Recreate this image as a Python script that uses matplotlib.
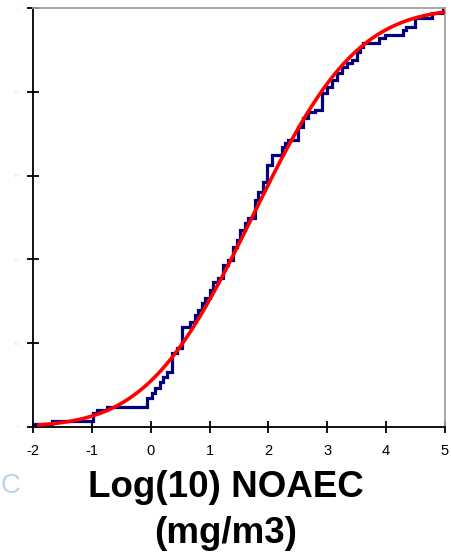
import numpy as np
import matplotlib
matplotlib.use("Agg")
import matplotlib.pyplot as plt
from math import erf, sqrt

# Empirical CDF: x positions where the step rises, and the level after the rise
step_x = [-2.00, -1.68, -0.98, -0.91, -0.74, -0.06, 0.02, 0.07, 0.16, 0.21,
          0.28, 0.36, 0.45, 0.53, 0.67, 0.75, 0.80, 0.87, 0.92, 1.01,
          1.06, 1.14, 1.23, 1.31, 1.40, 1.47, 1.52, 1.60, 1.65, 1.77,
          1.82, 1.91, 1.98, 2.06, 2.23, 2.28, 2.33, 2.50, 2.59, 2.67,
          2.79, 2.91, 3.00, 3.08, 3.16, 3.25, 3.33, 3.42, 3.50, 3.56,
          3.61, 3.88, 3.98, 4.29, 4.34, 4.49, 4.78, 4.97, 5.00]
step_y = [0.006, 0.014, 0.033, 0.041, 0.048, 0.069, 0.081, 0.093, 0.107, 0.119,
          0.131, 0.177, 0.189, 0.239, 0.251, 0.267, 0.279, 0.296, 0.308, 0.327,
          0.346, 0.356, 0.387, 0.399, 0.430, 0.446, 0.470, 0.487, 0.499, 0.542,
          0.561, 0.585, 0.625, 0.649, 0.668, 0.678, 0.685, 0.716, 0.737, 0.752,
          0.757, 0.797, 0.811, 0.828, 0.845, 0.859, 0.869, 0.876, 0.895, 0.907,
          0.916, 0.928, 0.936, 0.947, 0.955, 0.976, 0.988, 1.000, 1.000]

# Fitted normal distribution (log10 NOAEC)
fit_mu = 1.72
fit_sigma = 1.40
fit_range = (-1.9, 5.0)

x_ticks = [-2, -1, 0, 1, 2, 3, 4, 5]
y_ticks = [0, 0.2, 0.4, 0.6, 0.8, 1.0]
y_tick_labels = ["0", "0.2", "0.4", "0.6", "0.8", "1"]
x_label = "Log(10) NOAEC\n(mg/m3)"

plt.rcParams['font.family'] = ['Liberation Sans', 'DejaVu Sans']

fig = plt.figure(figsize=(4.52, 5.55), dpi=100)
ax = fig.add_axes([33/452, 1 - 427/555, 412/452, 419/555])

ax.plot(step_x, step_y, drawstyle='steps-post', color='#000080', lw=2.3,
        solid_joinstyle='miter', zorder=2)

xf = np.linspace(fit_range[0], fit_range[1], 300)
yf = [0.5 * (1 + erf((v - fit_mu) / (fit_sigma * sqrt(2)))) for v in xf]
ax.plot(xf, yf, color='#ff0000', lw=2.6, zorder=3)

ax.set_xlim(-2, 5)
ax.set_ylim(0, 1)
ax.set_xticks(x_ticks)
ax.set_xticklabels([str(t) for t in x_ticks])
ax.set_yticks(y_ticks)
ax.set_yticklabels(y_tick_labels)

for s in ['left', 'bottom']:
    ax.spines[s].set_color('black')
    ax.spines[s].set_linewidth(1.3)
for s in ['top', 'right']:
    ax.spines[s].set_color('#a0a0a0')
    ax.spines[s].set_linewidth(1.3)

ax.tick_params(axis='both', direction='inout', length=8, width=1.3, color='black')
ax.tick_params(axis='x', labelsize=10.5, pad=8)
ax.tick_params(axis='y', labelsize=3, labelcolor='#d8d8d8', pad=6)

ax.set_xlabel(x_label, fontsize=26.5, fontweight='bold', linespacing=1.42)
ax.xaxis.set_label_coords((226 - 33) / 412, (427 - 470) / 419)
ax.xaxis.label.set_va('top')

fig.text(1/452, 1 - 486/555, "C", fontsize=20, color='#b8d4f0',
         ha='left', va='center')

fig.savefig("out.png", dpi=100)
